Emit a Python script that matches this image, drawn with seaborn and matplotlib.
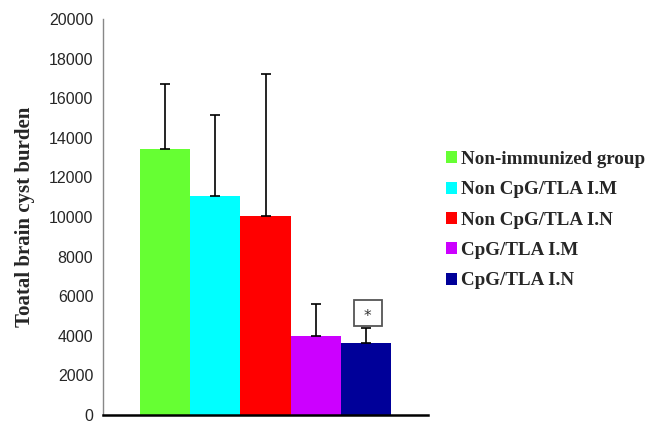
import matplotlib
matplotlib.use("Agg")
import matplotlib.pyplot as plt
from matplotlib.patches import Rectangle
import pandas as pd
import seaborn as sns

# values
groups = ["Non-immunized group", "Non CpG/TLA I.M", "Non CpG/TLA I.N",
          "CpG/TLA I.M", "CpG/TLA I.N"]
means = [13430, 11060, 10070, 3990, 3640]
upper_err = [3300, 4090, 7150, 1600, 740]
colors = ["#66FF33", "#00FFFF", "#FF0000", "#CC00FF", "#000099"]
yticks = list(range(0, 20001, 2000))

df = pd.DataFrame({"cat": ["all"] * len(groups), "group": groups, "value": means})

sns.set_style("white")
plt.rcParams["font.family"] = ["Liberation Sans", "DejaVu Sans"]

fig = plt.figure(figsize=(6.56, 4.23), dpi=100)
ax = fig.add_axes([103 / 656, 8 / 423, 325 / 656, 396 / 423])

sns.barplot(data=df, x="cat", y="value", hue="group", hue_order=groups,
            palette=colors, width=0.775, saturation=1, errorbar=None,
            edgecolor="none", linewidth=0, ax=ax)

# upper-only error bars at bar centres
bars = ax.patches[:len(groups)]
xs = [b.get_x() + b.get_width() / 2 for b in bars]
ys = [b.get_height() for b in bars]
ax.errorbar(xs, ys, yerr=[[0] * len(ys), upper_err], fmt="none",
            ecolor="black", elinewidth=1.2, capsize=3.5, capthick=1.2)

# significance mark above the last bar
star_y = 5150
ax.add_patch(Rectangle((xs[-1] - 0.038, star_y - 680), 0.086, 1360,
                       fc="white", ec="#555555", lw=1.3, zorder=3))
ax.text(xs[-1] + 0.005, star_y - 150, "*", ha="center", va="center", fontsize=11,
        family="DejaVu Sans", color="#333333", zorder=4)

ax.set_ylim(0, 20000)
ax.set_xlim(-0.5, 0.5)
ax.set_yticks(yticks)
ax.set_yticklabels([str(t) for t in yticks], fontsize=11.5)
ax.set_xticks([-0.5, 0.5])
ax.set_xticklabels(["", ""])
ax.set_xlabel("")
ax.set_ylabel("Toatal brain cyst burden", fontsize=15, fontweight="bold",
              family=["Liberation Serif"], labelpad=10)

ax.tick_params(axis="y", direction="out", length=4, width=1, color="#888888", pad=3)
ax.tick_params(axis="x", direction="out", length=4, width=1.5, color="black")
for side in ["top", "right"]:
    ax.spines[side].set_visible(False)
ax.spines["left"].set_color("#888888")
ax.spines["left"].set_linewidth(1)
ax.spines["bottom"].set_color("black")
ax.spines["bottom"].set_linewidth(1.8)

handles, labels = ax.get_legend_handles_labels()
ax.legend(handles, labels, loc="upper left", bbox_to_anchor=(446 / 656, 1 - 151 / 423),
          bbox_transform=fig.transFigure, frameon=False, borderaxespad=0, borderpad=0,
          handlelength=0.6, handleheight=0.6, handletextpad=0.2, labelspacing=0.7,
          prop={"family": "Liberation Serif", "weight": "bold", "size": 13.7})

fig.savefig("out.png", dpi=100)
